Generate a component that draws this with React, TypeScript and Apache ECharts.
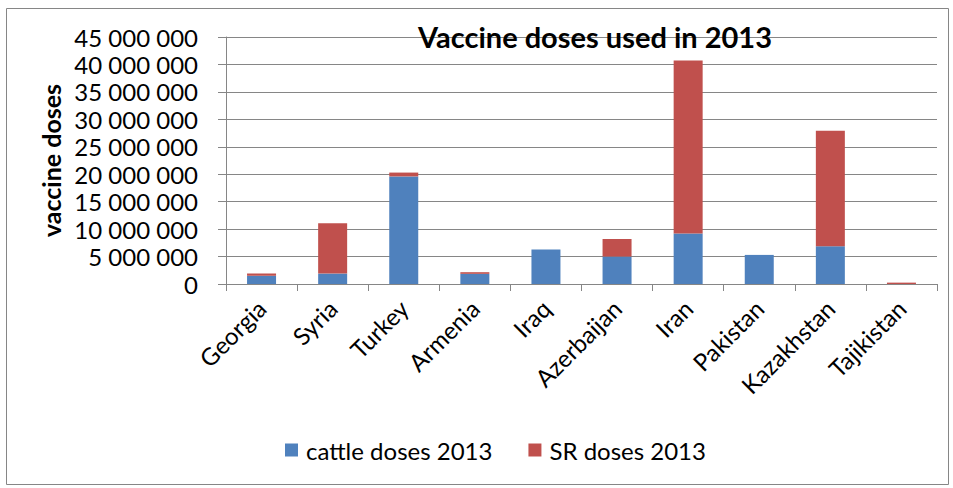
import React, { useEffect, useRef } from "react";
import * as echarts from "echarts";

const categories = ["Georgia", "Syria", "Turkey", "Armenia", "Iraq", "Azerbaijan", "Iran", "Pakistan", "Kazakhstan", "Tajikistan"];
const cattleDoses = [1500000, 1900000, 19600000, 1850000, 6300000, 5000000, 9200000, 5300000, 6900000, 0];
const srDoses = [400000, 9150000, 700000, 300000, 0, 3200000, 31500000, 0, 21000000, 250000];
const seriesNames = ["cattle doses 2013", "SR doses 2013"];
const titleText = "Vaccine doses used in 2013";
const yAxisName = "vaccine doses";

const FONT = "Lato, 'Open Sans', sans-serif";

function fmt(v: number): string {
  return String(Math.round(v)).replace(/\B(?=(\d{3})+(?!\d))/g, " ");
}

export default function App() {
  const ref = useRef<HTMLDivElement>(null);
  useEffect(() => {
    if (!ref.current) return;
    const chart = echarts.init(ref.current, null, { renderer: "svg" });
    chart.setOption({
      animation: false,
      backgroundColor: "#ffffff",
      textStyle: { fontFamily: FONT },
      title: {
        text: titleText,
        left: 590,
        top: 17,
        textAlign: "center",
        textStyle: { fontFamily: FONT, fontWeight: "bold", fontSize: 29, color: "#000" },
      },
      graphic: [
        {
          type: "rect",
          shape: { x: 6.5, y: 8.5, width: 942, height: 476 },
          style: { fill: "none", stroke: "#868686", lineWidth: 1 },
          silent: true,
        },
      ],
      legend: {
        left: 280,
        top: 433,
        itemWidth: 13,
        itemHeight: 13,
        itemGap: 36,
        icon: "rect",
        textStyle: { fontFamily: FONT, fontSize: 24, color: "#000", padding: [0, 0, 0, 3] },
        data: seriesNames,
      },
      grid: { left: 226, right: 16, top: 37, bottom: 204 },
      xAxis: {
        type: "category",
        data: categories,
        axisLine: { lineStyle: { color: "#868686" } },
        axisTick: { show: true, length: 7, lineStyle: { color: "#868686" } },
        axisLabel: {
          rotate: 45,
          interval: 0,
          margin: 20,
          fontFamily: FONT,
          fontSize: 24,
          color: "#000",
        },
      },
      yAxis: {
        type: "value",
        min: 0,
        max: 45000000,
        interval: 5000000,
        name: yAxisName,
        nameLocation: "middle",
        nameRotate: 90,
        nameGap: 156,
        nameTextStyle: { fontFamily: FONT, fontWeight: "bold", fontSize: 25, color: "#000" },
        axisLine: { show: true, lineStyle: { color: "#868686" } },
        axisTick: { show: true, length: 8, lineStyle: { color: "#868686" } },
        splitLine: { lineStyle: { color: "#868686", width: 1 } },
        axisLabel: {
          margin: 28,
          fontFamily: FONT,
          fontSize: 24,
          color: "#000",
          formatter: (v: number) => fmt(v),
        },
      },
      series: [
        {
          name: seriesNames[0],
          type: "bar",
          stack: "total",
          data: cattleDoses,
          barWidth: 29,
          itemStyle: { color: "#4F81BD" },
        },
        {
          name: seriesNames[1],
          type: "bar",
          stack: "total",
          data: srDoses,
          barWidth: 29,
          itemStyle: { color: "#C0504D" },
        },
      ],
    });
    return () => chart.dispose();
  }, []);
  return (
    <div
      ref={ref}
      style={{ position: "fixed", left: 0, top: 0, width: 953, height: 488 }}
    />
  );
}
